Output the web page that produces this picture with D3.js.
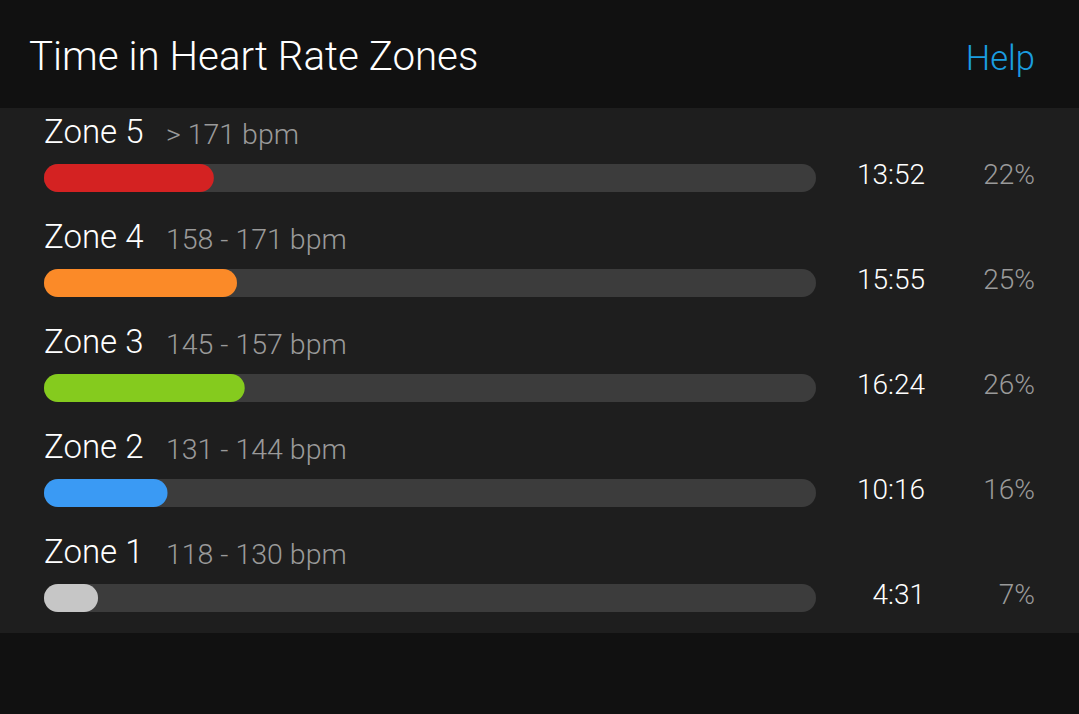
<!DOCTYPE html>
<html><head><meta charset="utf-8">
<script src="https://cdn.jsdelivr.net/npm/d3@7"></script>
<style>html,body{margin:0;padding:0;background:#111111;}svg{display:block;}</style>
</head><body>
<svg id="chart" width="1079" height="714"></svg>
<script>
const zones = ["Zone 5", "Zone 4", "Zone 3", "Zone 2", "Zone 1"];
const ranges = ["> 171 bpm", "158 - 171 bpm", "145 - 157 bpm", "131 - 144 bpm", "118 - 130 bpm"];
const times = ["13:52", "15:55", "16:24", "10:16", "4:31"];
const percents = [22, 25, 26, 16, 7];
const colors = ["#d42222", "#fb8a28", "#85cb1e", "#3a9af4", "#c6c6c6"];

const W = 1079, H = 714;
const svg = d3.select("#chart");
const font = "Roboto, 'Open Sans', sans-serif";

svg.append("rect").attr("width", W).attr("height", H).attr("fill", "#111111");
svg.append("rect").attr("x", 0).attr("y", 108).attr("width", W).attr("height", 525).attr("fill", "#1e1e1e");

svg.append("text").attr("x", 29).attr("y", 70).attr("fill", "#ffffff")
  .attr("font-family", font).attr("font-weight", 300).attr("font-size", 40.3)
  .text("Time in Heart Rate Zones");
svg.append("text").attr("x", 1035).attr("y", 70).attr("text-anchor", "end").attr("fill", "#1a9de0")
  .attr("font-family", font).attr("font-weight", 300).attr("font-size", 34.5)
  .text("Help");

const x = d3.scaleLinear().domain([0, 100]).range([44, 816]);
const y = d3.scaleBand().domain(zones).range([112, 637]).padding(0);
const barH = 28;

const rows = svg.selectAll("g.row").data(zones).join("g").attr("class", "row")
  .attr("transform", d => `translate(0,${y(d)})`);

rows.append("text").attr("x", 44).attr("y", 31).attr("fill", "#ffffff")
  .attr("font-family", font).attr("font-weight", 300).attr("font-size", 33)
  .text(d => d);
rows.append("text").attr("x", 166).attr("y", 32).attr("fill", "#9a9a9a")
  .attr("font-family", font).attr("font-weight", 300).attr("font-size", 28.5)
  .text((d, i) => ranges[i]);

rows.append("rect").attr("x", x(0)).attr("y", 52).attr("width", x(100) - x(0)).attr("height", barH)
  .attr("rx", barH / 2).attr("fill", "#3c3c3c");
rows.append("rect").attr("x", x(0)).attr("y", 52)
  .attr("width", (d, i) => x(percents[i]) - x(0)).attr("height", barH)
  .attr("rx", barH / 2).attr("fill", (d, i) => colors[i]);

rows.append("text").attr("x", 925).attr("y", 72).attr("text-anchor", "end").attr("fill", "#ffffff")
  .attr("font-family", font).attr("font-weight", 300).attr("font-size", 28)
  .text((d, i) => times[i]);
rows.append("text").attr("x", 1035).attr("y", 72).attr("text-anchor", "end").attr("fill", "#9a9a9a")
  .attr("font-family", font).attr("font-weight", 300).attr("font-size", 28)
  .text((d, i) => percents[i] + "%");
</script>
</body></html>
